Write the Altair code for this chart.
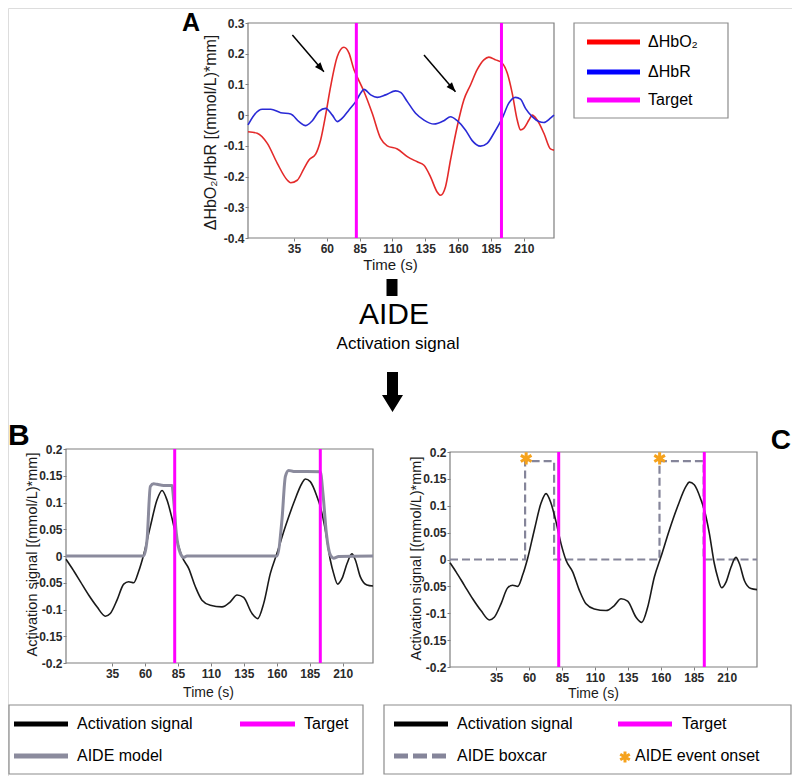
import altair as alt
import pandas as pd

# ---------------- data ----------------
hbo2_time = [0, 7, 14.7, 22.3, 30, 32.5, 37.5, 42.6, 46.4, 51.5, 55.3, 59.1, 62.9, 68, 73, 76.9, 80.7,
             83.2, 88.3, 94.6, 101, 106, 113.7, 121.3, 128.9, 134, 139, 144, 146.6, 150.4, 154.2, 159.3,
             164.4, 169.5, 174.5, 179.6, 183.4, 188.5, 193.6, 197.4, 201.2, 205, 207.5, 210, 213.9, 216.4,
             220.2, 225.3, 230.3, 233]
hbo2_value = [-0.054, -0.059, -0.092, -0.157, -0.212, -0.220, -0.212, -0.174, -0.146, -0.127, -0.081, 0.0,
              0.093, 0.191, 0.221, 0.202, 0.148, 0.124, 0.077, 0.006, -0.076, -0.100, -0.110, -0.135, -0.152,
              -0.163, -0.201, -0.250, -0.261, -0.233, -0.146, -0.037, 0.050, 0.099, 0.148, 0.180, 0.189, 0.180,
              0.169, 0.137, 0.071, -0.016, -0.048, -0.043, -0.016, 0.0, -0.016, -0.059, -0.110, -0.114]

hbr_time = [0, 4.6, 10.9, 17.3, 24.9, 32.5, 38.8, 43.9, 49, 54, 59.1, 64.2, 68, 71.8, 76.9, 82, 85.7, 88.3,
            93.4, 98.4, 104.8, 112.4, 116.2, 121.3, 127.6, 134, 141.6, 149.2, 154.2, 159.3, 165.7, 170.7, 177,
            182.1, 187.2, 193.6, 198.6, 203.7, 207.5, 211.3, 216.4, 221.5, 225.3, 230.3, 233]
hbr_value = [-0.032, 0.0, 0.019, 0.019, 0.008, 0.004, -0.021, -0.034, -0.018, 0.012, 0.022, 0.0, -0.021,
             -0.010, 0.017, 0.044, 0.071, 0.084, 0.066, 0.058, 0.066, 0.079, 0.074, 0.044, 0.006, -0.016,
             -0.029, -0.018, -0.005, -0.018, -0.049, -0.083, -0.101, -0.092, -0.059, -0.010, 0.039, 0.058,
             0.052, 0.022, -0.005, -0.021, -0.024, -0.010, 0.0]

act_time = [0, 4.6, 10.9, 17.2, 23.5, 29.9, 33.6, 38.7, 43.8, 47.6, 51.4, 55.1, 58.9, 64, 69.1, 72.9, 76.6,
            80.4, 84.2, 88, 93.1, 98.2, 103.2, 109.5, 118.4, 124.7, 129.8, 134.8, 141.2, 145.5, 150, 155.1,
            160.1, 166.5, 172.8, 179.1, 181.6, 185.4, 190.5, 193, 196.8, 200.6, 203.1, 206.2, 209.5, 213.3,
            217, 219.6, 223.4, 228.4, 233]
act_value = [-0.006, -0.023, -0.048, -0.073, -0.095, -0.1125, -0.1075, -0.0825, -0.0525, -0.048, -0.05,
             -0.029, 0.002, 0.055, 0.105, 0.1225, 0.105, 0.071, 0.030, -0.001, -0.023, -0.0575, -0.0825,
             -0.092, -0.095, -0.0856, -0.073, -0.0775, -0.1075, -0.117, -0.089, -0.0325, 0.005, 0.055, 0.099,
             0.136, 0.144, 0.139, 0.111, 0.0925, 0.049, -0.0075, -0.0325, -0.0525, -0.042, -0.014, 0.004,
             -0.0075, -0.039, -0.054, -0.056]

model_time = [0, 58.9, 61.5, 64, 66.5, 69.1, 74.1, 80.4, 81.7, 83.7, 86.8, 89.3, 91.8, 160.1, 163.9, 166.5,
              169, 172.8, 193, 195, 197.6, 200.6, 203.1, 206.9, 233]
model_value = [0, 0, 0.03, 0.13, 0.135, 0.134, 0.132, 0.132, 0.105, 0.0425, 0.005, -0.0025, 0, 0, 0.0675,
               0.149, 0.16, 0.158, 0.1575, 0.1175, 0.0425, 0.002, -0.004, -0.001, 0]

boxcar_time = [0, 57, 57, 79, 79, 159, 159, 192.5, 192.5, 233]
boxcar_value = [0, 0, 0.183, 0.183, 0, 0, 0.183, 0.183, 0, 0]
onset_time = [57.8, 159.1]
onset_value = [0.188, 0.188]
target_time = [82.5, 193.0]

arrow_start_time = [33.8, 134.0]
arrow_start_value = [0.261, 0.196]
arrow_end_time = [57.8, 158.0]
arrow_end_value = [0.141, 0.076]

time_ticks = [35, 60, 85, 110, 135, 160, 185, 210]
a_y_ticks = [-0.4, -0.3, -0.2, -0.1, 0, 0.1, 0.2, 0.3]
a_y_labels = ["-0.4", "-0.3", "-0.2", "-0.1", "0", "0.1", "0.2", "0.3"]
bc_y_ticks = [-0.2, -0.15, -0.1, -0.05, 0, 0.05, 0.1, 0.15, 0.2]
b_y_labels = ["-0.2", "-0.15", "-0.1", "-0.05", "0", "0.05", "0.1", "0.15", "0.2"]
c_y_labels = ["-0.2", "0.15", "-0.1", "0.05", "0", "0.05", "0.1", "0.15", "0.2"]

legend_a_labels = ["ΔHbO₂", "ΔHbR", "Target"]
legend_b_labels = ["Activation signal", "Target", "AIDE model"]
legend_c_labels = ["Activation signal", "Target", "AIDE boxcar", "AIDE event onset"]

# ---------------- layout & style ----------------
W, H = 784, 768
FONT = "Liberation Sans"
TIME_DOMAIN = [0.0, 233.0]
RED, BLUE, MAGENTA = "#e42a2a", "#2a2ad6", "#ff00ff"
GRAY_MODEL, GRAY_BOX, ORANGE = "#8b8b9d", "#85859a", "#f5a21c"
FRAME = "#7f7f7f"

panels = {
    "A": dict(x=[240, 546], y=[230, 15], ydom=[-0.4, 0.3]),
    "B": dict(x=[58, 365], y=[655, 441], ydom=[-0.2, 0.2]),
    "C": dict(x=[442, 749], y=[659, 444], ydom=[-0.2, 0.2]),
}

ARROWHEAD = "M0,0L-0.38,1L0.38,1Z"
BIG_ARROW = "M-0.275,-1L0.275,-1L0.275,0.15L0.525,0.15L0,1L-0.525,0.15L-0.275,0.15Z"
ASTERISK = "M0,-1L0,1M-0.87,-0.5L0.87,0.5M-0.87,0.5L0.87,-0.5"

one = pd.DataFrame({"k": [0]})


def sx(p):
    return alt.Scale(domain=TIME_DOMAIN, range=panels[p]["x"], nice=False, zero=False)


def sy(p):
    return alt.Scale(domain=panels[p]["ydom"], range=panels[p]["y"], nice=False, zero=False)


def label_expr(values, labels):
    expr = "''"
    for v, l in reversed(list(zip(values, labels))):
        expr = f"abs(datum.value - ({v})) < 1e-9 ? '{l}' : ({expr})"
    return expr


def curve(p, t, v, color, width, dash=None, interp="monotone"):
    df = pd.DataFrame({"t": t, "v": v, "i": list(range(len(t)))})
    mk = dict(color=color, strokeWidth=width, interpolate=interp)
    if dash:
        mk["strokeDash"] = dash
    return alt.Chart(df).mark_line(**mk).encode(
        x=alt.X("t:Q", scale=sx(p), axis=None),
        y=alt.Y("v:Q", scale=sy(p), axis=None),
        order="i:Q",
    )


def box(x0, x1, y0, y1, color="#8c8c8c", width=1.2):
    return alt.Chart(one).mark_rect(fillOpacity=0, stroke=color, strokeWidth=width).encode(
        x=alt.value(x0), x2=alt.value(x1), y=alt.value(y0), y2=alt.value(y1))


def panel_box(p):
    xl, xr = panels[p]["x"]
    yb, yt = panels[p]["y"]
    return box(xl, xr, yt, yb, FRAME, 1.2)


def vrules(p, times, color, width):
    lo, hi = panels[p]["ydom"]
    df = pd.DataFrame({"t": times, "lo": [lo] * len(times), "hi": [hi] * len(times)})
    return alt.Chart(df).mark_rule(color=color, strokeWidth=width).encode(
        x=alt.X("t:Q", scale=sx(p), axis=None),
        y=alt.Y("lo:Q", scale=sy(p), axis=None),
        y2="hi",
    )


def axes(p, yvals, ylabels, ytitle, ytitle_size, xt_x, xt_y, yt_x, yt_y, xt_size):
    lo, hi = panels[p]["ydom"]
    xl, _ = panels[p]["x"]
    yb, _ = panels[p]["y"]
    df = pd.DataFrame({"t": [TIME_DOMAIN[0]], "v": [lo], "panel": [p]})
    common = dict(labelFont=FONT, labelFontSize=12, labelFontWeight="bold", labelColor="#2a2a2a",
                  tickSize=3, tickColor=FRAME, tickWidth=1, domain=False, grid=False, labelOverlap=False,
                  titleFont=FONT, titleFontWeight="normal", titleColor="#1a1a1a", titleAlign="center")
    xaxis = alt.Axis(orient="bottom", offset=yb - H, values=time_ticks, format="d", labelPadding=2,
                     title="Time (s)", titleFontSize=xt_size, titleX=xt_x, titleY=xt_y,
                     titleBaseline="alphabetic", **common)
    yaxis = alt.Axis(orient="left", offset=-xl, values=yvals, labelExpr=label_expr(yvals, ylabels),
                     labelPadding=1, title=ytitle, titleFontSize=ytitle_size, titleAngle=270,
                     titleX=yt_x, titleY=yt_y, titleBaseline="middle", **common)
    return alt.Chart(df).mark_point(opacity=0, size=1).encode(
        x=alt.X("t:Q", scale=sx(p), axis=xaxis),
        y=alt.Y("v:Q", scale=sy(p), axis=yaxis),
    )


layers = []

# ---------- panel A ----------
layers.append(panel_box("A"))
layers.append(curve("A", hbo2_time, hbo2_value, RED, 1.6))
layers.append(curve("A", hbr_time, hbr_value, BLUE, 1.6))
layers.append(vrules("A", target_time, MAGENTA, 3))
arrow_df = pd.DataFrame({"t0": arrow_start_time, "v0": arrow_start_value,
                         "t1": arrow_end_time, "v1": arrow_end_value})
layers.append(alt.Chart(arrow_df).mark_rule(color="black", strokeWidth=1.5).encode(
    x=alt.X("t0:Q", scale=sx("A"), axis=None), x2="t1",
    y=alt.Y("v0:Q", scale=sy("A"), axis=None), y2="v1"))
layers.append(alt.Chart(arrow_df).mark_point(shape=ARROWHEAD, filled=True, size=360, angle=139,
                                             color="black", opacity=1).encode(
    x=alt.X("t1:Q", scale=sx("A"), axis=None),
    y=alt.Y("v1:Q", scale=sy("A"), axis=None)))
layers.append(axes("A", a_y_ticks, a_y_labels, "ΔHbO₂/HbR [(mmol/L)*mm]", 16, 382, 31, -38, 124, 15))

# ---------- panel B ----------
layers.append(panel_box("B"))
layers.append(curve("B", act_time, act_value, "#1a1a1a", 1.6))
layers.append(curve("B", model_time, model_value, GRAY_MODEL, 3))
layers.append(vrules("B", target_time, MAGENTA, 3))
layers.append(axes("B", bc_y_ticks, b_y_labels, "Activation signal [(mmol/L)*mm]", 14.5, 200, 33, -34, 546, 14))

# ---------- panel C ----------
layers.append(panel_box("C"))
layers.append(curve("C", boxcar_time, boxcar_value, GRAY_BOX, 2.2, dash=[8, 4], interp="linear"))
layers.append(curve("C", act_time, act_value, "#1a1a1a", 1.6))
layers.append(vrules("C", target_time, MAGENTA, 3))
onset_df = pd.DataFrame({"t": onset_time, "v": onset_value})
layers.append(alt.Chart(onset_df).mark_point(shape=ASTERISK, filled=False, size=150, strokeWidth=3,
                                             color=ORANGE, opacity=1).encode(
    x=alt.X("t:Q", scale=sx("C"), axis=None),
    y=alt.Y("v:Q", scale=sy("C"), axis=None)))
layers.append(axes("C", bc_y_ticks, c_y_labels, "Activation signal [(mmol/L)*mm]", 14.5, 585, 30, -34, 550, 14))


# ---------- annotations ----------
def text(s, x, y, size, weight="normal", align="center", baseline="alphabetic", color="black"):
    return alt.Chart(one).mark_text(text=s, font=FONT, fontSize=size, fontWeight=weight, align=align,
                                    baseline=baseline, color=color).encode(x=alt.value(x), y=alt.value(y))


layers.append(text("A", 183, 23, 25, "bold"))
layers.append(text("B", 0, 437, 30, "bold", align="left"))
layers.append(text("C", 783, 441, 28, "bold", align="right"))
layers.append(text("AIDE", 386, 316, 30))
layers.append(text("Activation signal", 390, 341, 17))
layers.append(alt.Chart(one).mark_rule(color="black", strokeWidth=11).encode(
    x=alt.value(384), y=alt.value(271), y2=alt.value(288)))
layers.append(alt.Chart(one).mark_point(shape=BIG_ARROW, filled=True, size=1600, color="black",
                                        opacity=1).encode(x=alt.value(384.5), y=alt.value(384)))


def swatch(x0, x1, y, color, dash=None, width=5):
    mk = dict(color=color, strokeWidth=width)
    if dash:
        mk["strokeDash"] = dash
    return alt.Chart(one).mark_rule(**mk).encode(x=alt.value(x0), x2=alt.value(x1), y=alt.value(y))


# legend A
layers.append(box(566, 720, 15, 110))
for lab, col, yy in zip(legend_a_labels, ["#ff0000", "#0000ff", MAGENTA], [34, 64, 92]):
    layers.append(swatch(579, 632, yy, col))
    layers.append(text(lab, 640, yy, 16, align="left", baseline="middle"))

# legend B
r1, r2 = 716, 748
layers.append(box(1, 355, 697, 766))
layers.append(swatch(6, 60, r1, "black"))
layers.append(text(legend_b_labels[0], 69, r1, 16, align="left", baseline="middle"))
layers.append(swatch(232, 287, r1, MAGENTA))
layers.append(text(legend_b_labels[1], 296, r1, 16, align="left", baseline="middle"))
layers.append(swatch(6, 60, r2, GRAY_MODEL))
layers.append(text(legend_b_labels[2], 69, r2, 16, align="left", baseline="middle"))

# legend C
layers.append(box(376, 783, 697, 766))
layers.append(swatch(386, 440, r1, "black"))
layers.append(text(legend_c_labels[0], 449, r1, 16, align="left", baseline="middle"))
layers.append(swatch(610, 664, r1, MAGENTA))
layers.append(text(legend_c_labels[1], 674, r1, 16, align="left", baseline="middle"))
layers.append(swatch(386, 440, r2, GRAY_BOX, dash=[14, 5]))
layers.append(text(legend_c_labels[2], 449, r2, 16, align="left", baseline="middle"))
layers.append(alt.Chart(one).mark_point(shape=ASTERISK, filled=False, size=120, strokeWidth=3,
                                        color=ORANGE, opacity=1).encode(x=alt.value(617), y=alt.value(r2 + 1)))
layers.append(text(legend_c_labels[3], 627, r2, 16, align="left", baseline="middle"))

chart = alt.layer(*layers).resolve_scale(x="independent", y="independent").properties(
    width=W, height=H, autosize=alt.AutoSizeParams(type="none"), padding=0,
).configure_view(strokeWidth=0).configure(font=FONT)

chart.save("out.html", embed_options={"renderer": "svg", "actions": False})
